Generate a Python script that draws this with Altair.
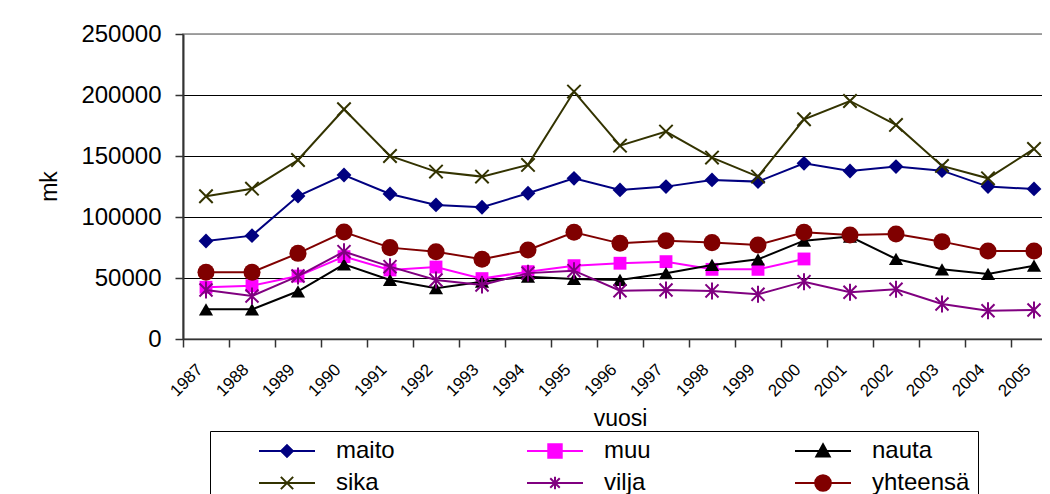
import altair as alt
import pandas as pd

years = [str(y) for y in range(1987, 2006)]

names = ["maito", "muu", "nauta", "sika", "vilja", "yhteensä"]

maito = [80300, 84700, 117200, 134400, 118900, 109900, 108000, 119500, 131700, 122200,
         124900, 130400, 129000, 144000, 137700, 141300, 138000, 124900, 123000]
muu = [42400, 43700, 51600, 67500, 56600, 59000, 49500, 55200, 60100, 62100,
       63400, 57100, 57100, 65600, None, None, None, None, None]
nauta = [24300, 24300, 39100, 61200, 48400, 41600, 47000, 51100, 49200, 48400,
         53900, 60700, 65300, 80600, 84000, 65600, 57100, 53300, 60100]
sika = [117000, 123200, 146700, 188300, 150000, 137200, 133100, 142700, 202800, 158500,
        170000, 148700, 133100, 180100, 195100, 175500, 141900, 131700, 155800]
vilja = [40200, 35200, 51600, 71600, 59300, 48400, 44300, 54000, 56000, 39600,
         40200, 39400, 36600, 47000, 38300, 40700, 28700, 23200, 23800]
yhteensa = [54700, 54700, 70200, 87700, 74900, 71600, 65300, 73000, 87500, 78400,
            80600, 79000, 77100, 87500, 85300, 86100, 79800, 72100, 72100]

series_values = [maito, muu, nauta, sika, vilja, yhteensa]
colors = ["#000080", "#FF00FF", "#000000", "#333300", "#800080", "#800000"]

# marker shapes (unit square -1..1)
X_PATH = "M-1,-1L1,1M-1,1L1,-1"
AST_PATH = "M-1,-1L1,1M-1,1L1,-1M0,-1.3L0,1.3"
marker_shapes = ["diamond", "square", "triangle-up", X_PATH, AST_PATH, "circle"]
marker_sizes = [220, 165, 200, 180, 170, 290]
marker_filled = [True, True, True, False, False, True]

# legend symbols: line segment plus marker
leg_paths = [
    "M-1,0L1,0M0,-0.21L0.21,0L0,0.21L-0.21,0Z",
    "M-1,0L1,0M-0.24,-0.24L0.24,-0.24L0.24,0.24L-0.24,0.24Z",
    "M-1,0L1,0M0,-0.24L0.24,0.2L-0.24,0.2Z",
    "M-1,0L1,0M-0.22,-0.22L0.22,0.22M-0.22,0.22L0.22,-0.22",
    "M-1,0L1,0M-0.17,-0.17L0.17,0.17M-0.17,0.17L0.17,-0.17M0,-0.22L0,0.22",
    "M-1,0L1,0M-0.28,0A0.28,0.28,0,1,0,0.28,0A0.28,0.28,0,1,0,-0.28,0Z",
]

rows = []
for name, vals in zip(names, series_values):
    for yr, v in zip(years, vals):
        if v is not None:
            rows.append({"year": yr, "series": name, "value": v})
df = pd.DataFrame(rows)

FONT = "Liberation Sans"

xenc = alt.X(
    "year:O",
    sort=years,
    scale=alt.Scale(type="band", domain=years, paddingInner=0, paddingOuter=0),
    axis=alt.Axis(
        title="vuosi", labelAngle=315, labelAlign="right", labelBaseline="top",
        labelOffset=-12, labelPadding=14, labelFontSize=17, labelFont=FONT,
        labelColor="#000000", labelOverlap=False, tickBand="extent", tickSize=8,
        tickColor="#333333", tickWidth=1.5, domainColor="#333333", domainWidth=1.5,
        grid=False, titleFontSize=23, titleFont=FONT, titleFontWeight="normal",
        titleColor="#000000", titleY=86, titleBaseline="alphabetic",
    ),
)
yenc = alt.Y(
    "value:Q",
    scale=alt.Scale(domain=[0, 250000], nice=False),
    axis=alt.Axis(
        title="mk", values=[0, 50000, 100000, 150000, 200000, 250000], format="d",
        labelFontSize=24, labelFont=FONT, labelColor="#000000", labelPadding=14,
        tickSize=8, tickColor="#333333", tickWidth=1.5, domainColor="#333333",
        domainWidth=2, grid=True,
        gridColor={"condition": {"test": "datum.value == 250000", "value": "#999999"}, "value": "#000000"},
        gridWidth=1, titleFontSize=23, titleFont=FONT, titleFontWeight="normal",
        titleColor="#000000", titleX=-127, titleY=152, titleAngle=270,
        titleBaseline="alphabetic",
    ),
)

base = alt.Chart(df)
layers = []
for i, name in enumerate(names):
    sub = base.transform_filter(alt.datum.series == name)
    layers.append(
        sub.mark_line(color=colors[i], strokeWidth=2).encode(x=xenc, y=yenc)
    )
    layers.append(
        sub.mark_point(
            shape=marker_shapes[i], size=marker_sizes[i], filled=marker_filled[i],
            color=colors[i], strokeWidth=2, opacity=1,
        ).encode(x=xenc, y=yenc)
    )

leg = alt.Legend(
    title=" ", titleOrient="left", titleFontSize=1, titlePadding=40,
    orient="none", legendX=27, legendY=397, direction="horizontal",
    columns=3, symbolSize=3136, symbolStrokeWidth=2, labelFont=FONT,
    labelFontSize=24, labelColor="#000000", labelOffset=20, columnPadding=92,
    rowPadding=8, padding=8, strokeColor="#000000", fillColor="#ffffff",
    gridAlign="all", labelLimit=300, clipHeight=24,
)
legend_layer = base.transform_filter("false").mark_point(
    filled=True, strokeWidth=2, size=3136, opacity=1
).encode(
    x=xenc, y=yenc,
    shape=alt.Shape("series:N", scale=alt.Scale(domain=names, range=leg_paths), legend=leg),
    fill=alt.Fill("series:N", scale=alt.Scale(domain=names, range=colors), legend=leg),
    stroke=alt.Stroke("series:N", scale=alt.Scale(domain=names, range=colors), legend=leg),
)
layers.append(legend_layer)

chart = alt.layer(*layers).properties(
    width=874, height=305,
    padding={"left": 175, "top": 26, "right": -15, "bottom": 160},
    autosize=alt.AutoSizeParams(type="none"),
).configure(font=FONT).configure_view(stroke="#888888", strokeWidth=1.5)

chart.save("out.html", embed_options={"renderer": "svg", "actions": False})
